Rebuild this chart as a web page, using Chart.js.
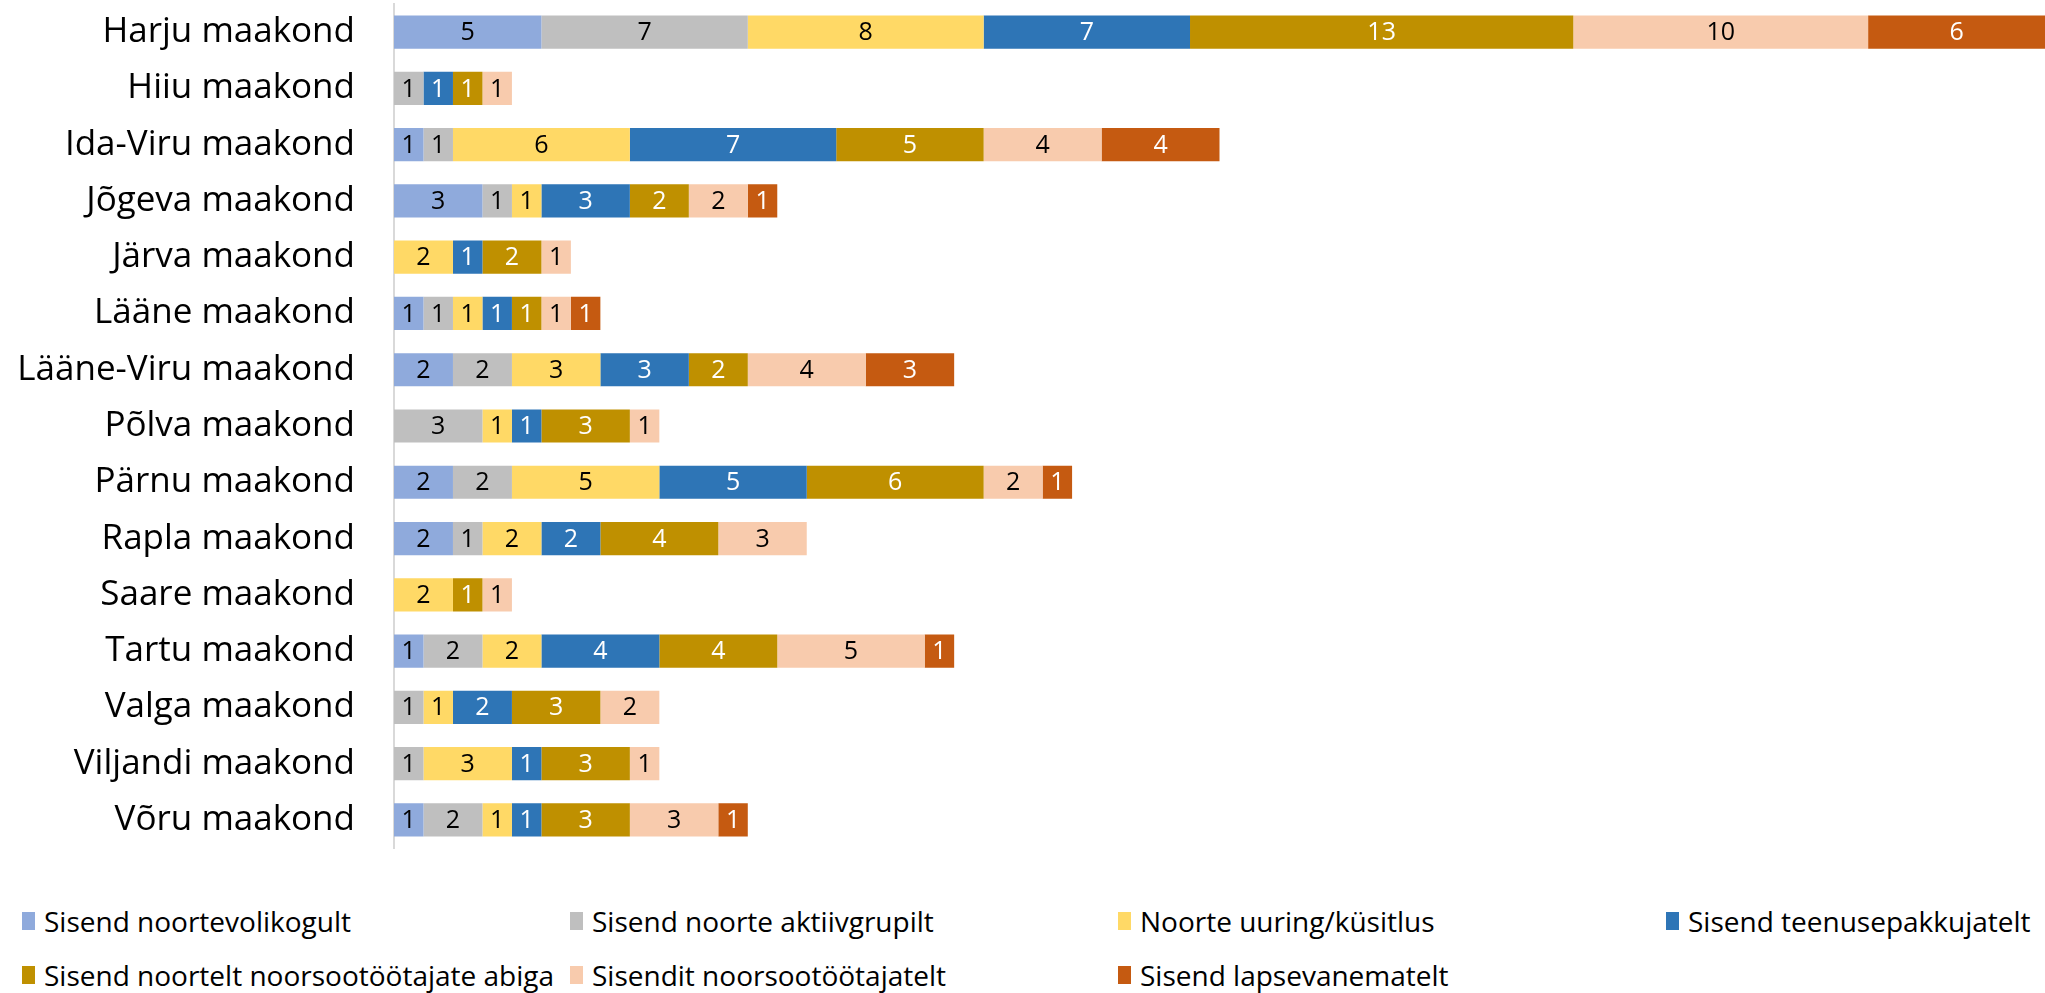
<!DOCTYPE html>
<html lang="et">
<head>
<meta charset="UTF-8">
<title>Sisendid maakondade kaupa</title>
<script src="https://cdn.jsdelivr.net/npm/chart.js@4.4.0/dist/chart.umd.min.js"></script>
<style>
    body { margin: 0; background: #fff; font-family: 'Open Sans', sans-serif; }
    .wrap { position: relative; width: 2045px; height: 993px; }
    .chart-box { position: absolute; left: 0; top: 0; width: 2045px; height: 852px; }
    .legend { position: absolute; left: 22px; top: 902px; display: grid;
              grid-template-columns: 548px 548px 548px 380px; row-gap: 16px; }
    .legend div { display: flex; align-items: center; font-size: 28px; color: #000; white-space: nowrap; line-height: 38px; }
    .legend span { display: inline-block; width: 13px; height: 18px; margin-right: 9px; }
</style>
</head>
<body>
<div class="wrap">
    <div class="chart-box"><canvas id="chart"></canvas></div>
    <div class="legend" id="legend"></div>
</div>

<script>
// counties (top to bottom)
const counties = ['Harju maakond', 'Hiiu maakond', 'Ida-Viru maakond', 'Jõgeva maakond', 'Järva maakond',
    'Lääne maakond', 'Lääne-Viru maakond', 'Põlva maakond', 'Pärnu maakond', 'Rapla maakond',
    'Saare maakond', 'Tartu maakond', 'Valga maakond', 'Viljandi maakond', 'Võru maakond'];

const seriesNames = ['Sisend noortevolikogult', 'Sisend noorte aktiivgrupilt', 'Noorte uuring/küsitlus',
    'Sisend teenusepakkujatelt', 'Sisend noortelt noorsootöötajate abiga', 'Sisendit noorsootöötajatelt',
    'Sisend lapsevanematelt'];

const noortevolikogu   = [5, 0, 1, 3, 0, 1, 2, 0, 2, 2, 0, 1, 0, 0, 1];
const aktiivgrupp      = [7, 1, 1, 1, 0, 1, 2, 3, 2, 1, 0, 2, 1, 1, 2];
const uuring           = [8, 0, 6, 1, 2, 1, 3, 1, 5, 2, 2, 2, 1, 3, 1];
const teenusepakkujad  = [7, 1, 7, 3, 1, 1, 3, 1, 5, 2, 0, 4, 2, 1, 1];
const noorsootoo_abiga = [13, 1, 5, 2, 2, 1, 2, 3, 6, 4, 1, 4, 3, 3, 3];
const noorsootootajad  = [10, 1, 4, 2, 1, 1, 4, 1, 2, 3, 1, 5, 2, 1, 3];
const lapsevanemad     = [6, 0, 4, 1, 0, 1, 3, 0, 1, 0, 0, 1, 0, 0, 1];

const colors = ['#8FAADC', '#BFBFBF', '#FFD966', '#2E75B6', '#BF9000', '#F8CBAD', '#C55A11'];
const labelColors = ['#000', '#000', '#000', '#fff', '#fff', '#000', '#fff'];
const xMax = 56;

const values = [noortevolikogu, aktiivgrupp, uuring, teenusepakkujad, noorsootoo_abiga, noorsootootajad, lapsevanemad];

const datasets = values.map((v, i) => ({
    label: seriesNames[i],
    data: v,
    backgroundColor: colors[i],
    borderWidth: 0,
    categoryPercentage: 0.59,
    barPercentage: 1
}));

// value labels in the middle of each segment
const segLabels = {
    id: 'segLabels',
    afterDatasetsDraw(chart) {
        const ctx = chart.ctx;
        ctx.save();
        ctx.font = '25px "Open Sans"';
        ctx.textAlign = 'center';
        ctx.textBaseline = 'middle';
        chart.data.datasets.forEach((ds, i) => {
            chart.getDatasetMeta(i).data.forEach((bar, j) => {
                const v = ds.data[j];
                if (!v) return;
                ctx.fillStyle = labelColors[i];
                ctx.fillText(v, (bar.x + bar.base) / 2, bar.y + 1);
            });
        });
        ctx.restore();
    }
};

new Chart(document.getElementById('chart'), {
    type: 'bar',
    data: { labels: counties, datasets: datasets },
    options: {
        indexAxis: 'y',
        responsive: true,
        maintainAspectRatio: false,
        animation: false,
        layout: { padding: { top: 4, bottom: 4, left: 0, right: 0 } },
        plugins: { legend: { display: false }, tooltip: { enabled: false } },
        scales: {
            x: { stacked: true, min: 0, max: xMax, display: false },
            y: {
                stacked: true,
                // invisible tick marks give the gap between labels and axis line
                grid: { display: true, drawOnChartArea: false, color: 'transparent', tickLength: 37 },
                border: { display: true, color: '#D9D9D9', width: 2 },
                ticks: { color: '#000', padding: 2, font: { family: 'Open Sans', size: 35 } },
                afterFit(scale) {
                    scale.width = 394;
                    scale.paddingTop = 0;
                    scale.paddingBottom = 0;
                }
            }
        }
    },
    plugins: [segLabels]
});

// legend
const legend = document.getElementById('legend');
seriesNames.forEach((name, i) => {
    const item = document.createElement('div');
    item.innerHTML = '<span style="background:' + colors[i] + '"></span>' + name;
    legend.appendChild(item);
});
</script>
</body>
</html>
